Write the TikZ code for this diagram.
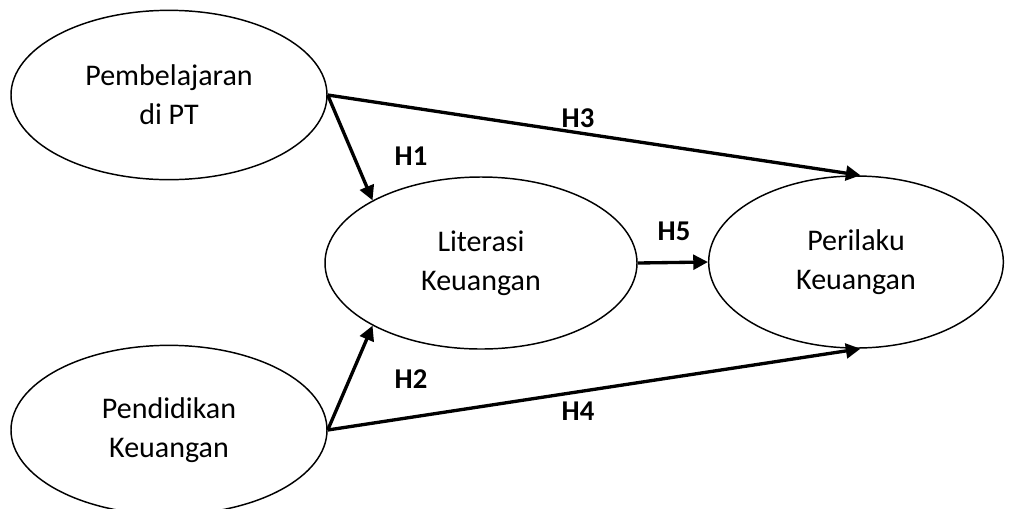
\documentclass[tikz,border=0pt]{standalone}
\usepackage{fontspec}
\setmainfont{Carlito}
\usetikzlibrary{shapes.geometric,arrows.meta}

\begin{document}
\begin{tikzpicture}[x=0.75pt,y=-0.75pt,
    var/.style={draw,ellipse,line width=1.1pt,inner sep=0pt,align=center,
      font=\fontsize{22.5}{29.5}\selectfont,execute at begin node={\rule{0pt}{28pt}}},
    path/.style={line width=2.5pt,-{Triangle[length=11pt,width=11pt]}},
    hyp/.style={font=\fontsize{21.5}{25}\selectfont\bfseries}]
    \useasboundingbox (0,0) rectangle (1012,508);
    \node[var,minimum width=237pt,minimum height=127pt] (pt) at (169,95) {Pembelajaran\\di PT};
    \node[var,minimum width=237pt,minimum height=127pt] (pk) at (169,430) {Pendidikan\\Keuangan};
    \node[var,minimum width=234pt,minimum height=129pt] (lit) at (481,263) {Literasi\\Keuangan};
    \node[var,minimum width=221pt,minimum height=129pt] (per) at (856,262) {Perilaku\\Keuangan};
    \foreach \a/\b in {pt.east/lit.150,pt.east/per.87,pk.east/lit.210,pk.east/per.273,lit.east/per.west} {
      \draw[path] (\a) -- (\b);
    }
    \node[hyp] (h1) at (411,156) {H1};
    \node[hyp] (h2) at (411,379) {H2};
    \node[hyp] (h3) at (578,118) {H3};
    \node[hyp] (h4) at (578,411) {H4};
    \node[hyp] (h5) at (674,231) {H5};
  \end{tikzpicture}
\end{document}
